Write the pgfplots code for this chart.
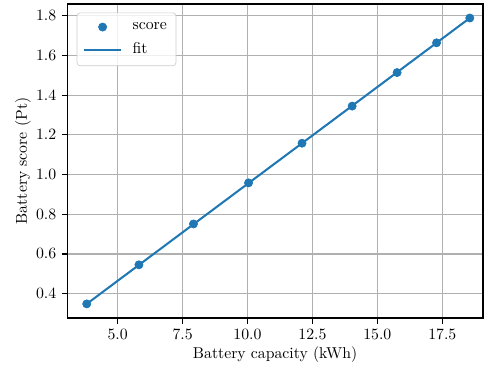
\documentclass[border=0pt]{standalone}
\usepackage{pgfplots}
\pgfplotsset{compat=1.18}
\definecolor{mplblue}{HTML}{1F77B4}
\definecolor{gridgray}{HTML}{B0B0B0}
\definecolor{legedge}{HTML}{CCCCCC}
\pgfplotsset{
  scoreleg/.style={legend image code/.code={\draw[##1, opacity=1] plot coordinates {(11.8pt,0pt)};}},
  fitleg/.style={legend image code/.code={\draw[##1, opacity=1] (0pt,0pt) -- (23.7pt,0pt);}},
}
\begin{document}
\begin{tikzpicture}
\begin{axis}[
  scale only axis,
  width=264pt, height=199.4pt,
  xmin=3.06, xmax=19.07,
  ymin=0.277, ymax=1.86,
  xtick={5,7.5,10,12.5,15,17.5},
  ytick={0.4,0.6,0.8,1.0,1.2,1.4,1.6,1.8},
  xticklabel style={/pgf/number format/.cd, fixed, fixed zerofill, precision=1},
  yticklabel style={/pgf/number format/.cd, fixed, fixed zerofill, precision=1},
  tick align=outside,
  tick pos=left,
  major tick length=3.5pt,
  every tick/.style={black, line width=0.8pt},
  axis line style={line width=0.8pt},
  grid=major,
  major grid style={gridgray, line width=0.8pt},
  xlabel={Battery capacity (kWh)},
  ylabel={Battery score (Pt)},
  xlabel style={yshift=2pt},
  ylabel style={yshift=-3.5pt},
  legend cell align=left,
  legend style={at={(0,1)}, anchor=north west, xshift=6pt, yshift=-5.5pt,
    draw=legedge, rounded corners=2pt, fill=white, fill opacity=0.8, text opacity=1,
    inner xsep=3.8pt, inner ysep=4pt,
    row sep=3pt,
    /tikz/every odd column/.append style={column sep=4.5pt}},
]
\addplot[only marks, mark=*, mark size=2.6pt, color=mplblue, scoreleg]
  coordinates {
  (3.81,0.348) (5.82,0.545) (7.92,0.751) (10.04,0.958) (12.10,1.158)
  (14.03,1.345) (15.76,1.514) (17.28,1.664) (18.56,1.789)
  };
\addlegendentry{score}
\addplot[mplblue, line width=1.3pt, no marks, fitleg]
  coordinates {(3.81,0.348) (18.56,1.789)};
\addlegendentry{fit}
\end{axis}
\path (current axis.south west) ++(-42.7pt,-33pt) coordinate (bbsw);
\path (current axis.north east) ++(0.6pt,2.5pt) coordinate (bbne);
\useasboundingbox (bbsw) rectangle (bbne);
\end{tikzpicture}
\end{document}
